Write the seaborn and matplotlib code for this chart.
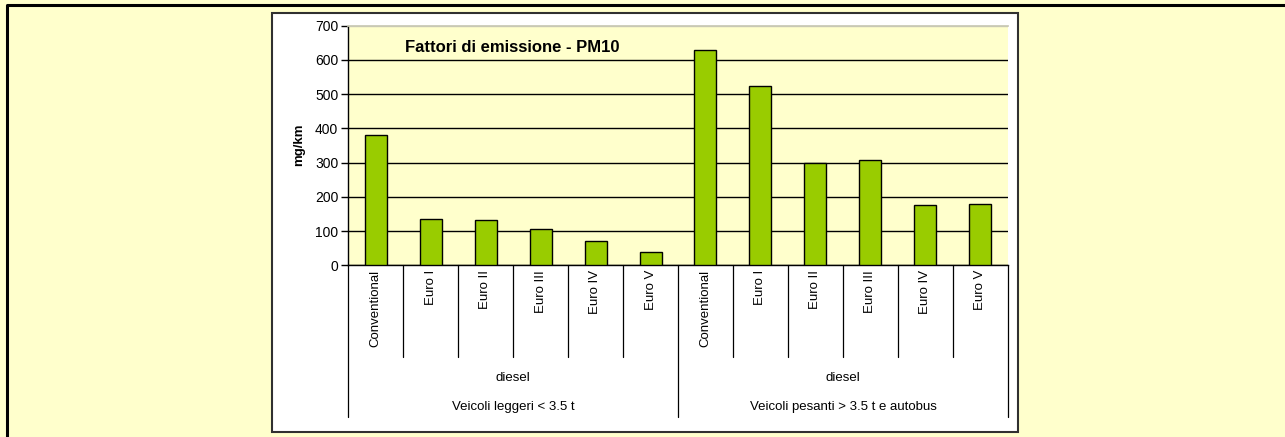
import matplotlib
matplotlib.use("Agg")
import matplotlib.pyplot as plt
import matplotlib.transforms as mtransforms
from matplotlib.patches import Rectangle
from matplotlib.lines import Line2D
import numpy as np
import pandas as pd
import seaborn as sns

# data
classes      = ["Conventional", "Euro I", "Euro II", "Euro III", "Euro IV", "Euro V"]
light_values = [382, 136, 133, 107, 72, 39]
heavy_values = [628, 525, 300, 307, 177, 179]
fuel_label   = "diesel"
group_labels = ["Veicoli leggeri < 3.5 t", "Veicoli pesanti > 3.5 t e autobus"]
y_ticks      = [0, 100, 200, 300, 400, 500, 600, 700]
title        = "Fattori di emissione - PM10"
y_label      = "mg/km"

W, H = 1285, 437
BG_YELLOW = "#FFFFCC"
BAR_GREEN = "#99CC00"


def fx(px):
    return px / W


def fy(py):
    return 1 - py / H


df = pd.DataFrame({
    "group": [group_labels[0]] * len(classes) + [group_labels[1]] * len(classes),
    "cls": classes + classes,
    "value": light_values + heavy_values,
})
df["key"] = df["group"] + "|" + df["cls"]

sns.set_theme(style="white")
plt.rcParams["font.family"] = ["Liberation Sans", "DejaVu Sans"]
plt.rcParams["text.color"] = "black"

fig = plt.figure(figsize=(W / 100, H / 100), dpi=100)
fig.patch.set_facecolor(BG_YELLOW)

# outer frame: only the top and left edges are visible in the crop
fig.add_artist(Line2D([fx(7), fx(7), 1.0], [0.0, fy(5), fy(5)],
                      transform=fig.transFigure, color="black", lw=2.2, zorder=0))
# white chart panel
fig.add_artist(Rectangle((fx(272), fy(432)), fx(1018) - fx(272), fy(13) - fy(432),
                         transform=fig.transFigure, facecolor="white",
                         edgecolor="#303030", lw=1.5, zorder=0))

ax = fig.add_axes([fx(348), fy(265.3), fx(1008) - fx(348), fy(25.7) - fy(265.3)])
ax.set_facecolor(BG_YELLOW)

sns.barplot(data=df, x="key", y="value", order=list(df["key"]), color=BAR_GREEN,
            width=0.4, edgecolor="black", linewidth=1, saturation=1, ax=ax, zorder=3)

ax.set_xlim(-0.5, len(df) - 0.5)
ax.set_ylim(0, 700)
ax.set_yticks(y_ticks)
ax.set_yticklabels([str(t) for t in y_ticks], fontsize=10, color="black")
ax.tick_params(axis="y", direction="out", length=5, width=1, color="black", pad=2, left=True)
ax.set_xticks([])
ax.set_xlabel("")
ax.set_ylabel("")

ax.grid(axis="y", color="black", lw=1, zorder=1)
ax.yaxis.get_gridlines()[-1].set_color("#C8C8B4")
for side in ["left", "bottom"]:
    ax.spines[side].set_color("black")
    ax.spines[side].set_linewidth(1)
ax.spines["right"].set_visible(False)
ax.spines["top"].set_color("#C8C8B4")

fig.text(fx(405), fy(47), title, fontsize=12, fontweight="bold",
         ha="left", va="center")
fig.text(fx(299), fy(145), y_label, rotation=90, fontsize=9.5, fontweight="bold",
         ha="center", va="center")

# multi-level category axis
trans = mtransforms.blended_transform_factory(ax.transData, fig.transFigure)
n = len(df)
for i in range(n + 1):
    bottom = 417 if i % len(classes) == 0 else 357
    ax.plot([i - 0.5, i - 0.5], [fy(265.3), fy(bottom)], transform=trans,
            color="black", lw=0.9, clip_on=False)
for i, cls in enumerate(df["cls"]):
    ax.text(i, fy(270), cls, transform=trans, rotation=90, fontsize=9.5,
            ha="center", va="top")
for g, name in enumerate(group_labels):
    mid = g * len(classes) + (len(classes) - 1) / 2
    ax.text(mid, fy(378), fuel_label, transform=trans, fontsize=9.5,
            ha="center", va="center")
    ax.text(mid, fy(407), name, transform=trans, fontsize=9.5,
            ha="center", va="center")

fig.savefig("out.png", dpi=100, facecolor=fig.get_facecolor())
